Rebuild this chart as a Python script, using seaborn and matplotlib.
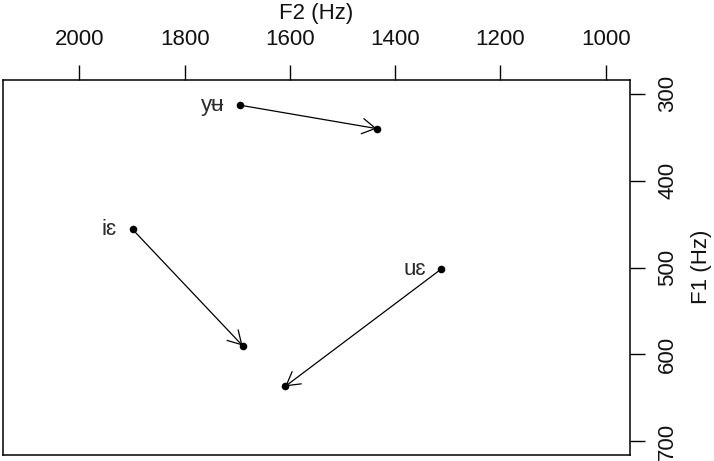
import matplotlib
matplotlib.use("Agg")
import matplotlib.pyplot as plt
import pandas as pd
import seaborn as sns

# diphthong trajectories: onset -> offset (Hz)
vowels = ["yʉ", "iɛ", "uɛ"]
f2_onset = [1695, 1899, 1313]
f1_onset = [313, 456, 502]
f2_offset = [1435, 1690, 1609]
f1_offset = [340, 590, 637]

f2_ticks = [2000, 1800, 1600, 1400, 1200, 1000]
f1_ticks = [300, 400, 500, 600, 700]

sns.set_style("white")
plt.rcParams["font.family"] = ["Liberation Sans", "DejaVu Sans"]

W, H = 714, 461
fig = plt.figure(figsize=(W / 100, H / 100), dpi=100)
ax = fig.add_axes([3 / W, 1 - 455 / H, 627 / W, 375 / H])

points = pd.DataFrame({
    "F2": f2_onset + f2_offset,
    "F1": f1_onset + f1_offset,
})
sns.scatterplot(data=points, x="F2", y="F1", color="black", s=30,
                edgecolor="black", linewidth=0, ax=ax, zorder=3)

for v, x0, y0, x1, y1 in zip(vowels, f2_onset, f1_onset, f2_offset, f1_offset):
    ax.annotate("", xy=(x1, y1), xytext=(x0, y0),
                arrowprops=dict(arrowstyle="->,head_length=0.95,head_width=0.55",
                                color="black", lw=0.9, shrinkA=0, shrinkB=0,
                                mutation_scale=10))
    ax.annotate(v, xy=(x0, y0), xytext=(-11, 0), textcoords="offset points",
                ha="right", va="center", fontsize=16, color="#2a2a2a")

ax.set_xlim(2145, 954)
ax.set_ylim(716, 284)
ax.xaxis.tick_top()
ax.yaxis.tick_right()
ax.set_xticks(f2_ticks)
ax.set_yticks(f1_ticks)
ax.set_yticklabels([str(t) for t in f1_ticks], rotation=90, va="center")
ax.tick_params(axis="both", length=10.5, width=1, color="black",
               labelsize=16, labelcolor="#111111")
ax.tick_params(axis="x", top=True, bottom=False, pad=11)
ax.tick_params(axis="y", right=True, left=False, pad=9)
ax.set_xlabel("")
ax.set_ylabel("")
for sp in ax.spines.values():
    sp.set_color("black")
    sp.set_linewidth(1.1)

fig.text(316 / W, 1 - 13 / H, "F2 (Hz)", ha="center", va="center",
         fontsize=16, color="#111111")
fig.text(702 / W, 1 - 267 / H, "F1 (Hz)", ha="center", va="center",
         rotation=90, fontsize=16, color="#111111")

fig.savefig("out.png", dpi=100)
